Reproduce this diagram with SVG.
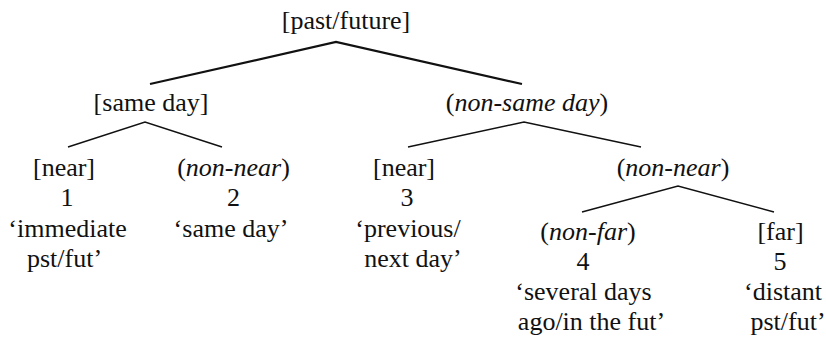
<svg xmlns="http://www.w3.org/2000/svg" width="826" height="337" viewBox="0 0 826 337" font-family="'Liberation Serif', 'Times New Roman', Times, 'DejaVu Serif', serif">
<style>
text{font-family:'Liberation Serif','Times New Roman',Times,'DejaVu Serif',serif;font-size:26px;fill:#111;text-anchor:middle}
.i{font-style:italic}
.e{fill:none;stroke:#111;stroke-width:1.4}
.r{stroke-width:2.2}
</style>
<rect width="826" height="337" fill="#fff"/>
<g id="connectors">
<path class="e r" d="M150,84 L336,42 L522,84"/>
<path class="e" d="M68,147 L145,122 L222,147"/>
<path class="e" d="M408,147 L524,122 L641,147"/>
<path class="e" d="M582,212 L678,186 L774,212"/>
</g>
<g id="root"><text x="346" y="29">[past/future]</text></g>
<g id="sameday"><text x="151" y="111">[same day]</text></g>
<g id="nonsameday"><text x="527" y="111">(<tspan class="i">non-same day</tspan>)</text></g>
<g id="near1">
<text x="64" y="176">[near]</text>
<text x="67" y="206">1</text>
<text x="67.5" y="237">‘immediate</text>
<text x="64.5" y="267">pst/fut’</text>
</g>
<g id="nonnear2">
<text x="233.5" y="176">(<tspan class="i">non-near</tspan>)</text>
<text x="233.5" y="206">2</text>
<text x="231" y="237">‘same day’</text>
</g>
<g id="near3">
<text x="404" y="176">[near]</text>
<text x="407" y="206">3</text>
<text x="408" y="237">‘previous/</text>
<text x="413" y="267">next day’</text>
</g>
<g id="nonnear">
<text x="673" y="176">(<tspan class="i">non-near</tspan>)</text>
</g>
<g id="nonfar4">
<text x="588" y="240">(<tspan class="i">non-far</tspan>)</text>
<text x="583" y="270">4</text>
<text x="583.5" y="300">‘several days</text>
<text x="591.5" y="330">ago/in the fut’</text>
</g>
<g id="far5">
<text x="780.5" y="240">[far]</text>
<text x="780" y="270">5</text>
<text x="783" y="300">‘distant</text>
<text x="788" y="330">pst/fut’</text>
</g>
</svg>
